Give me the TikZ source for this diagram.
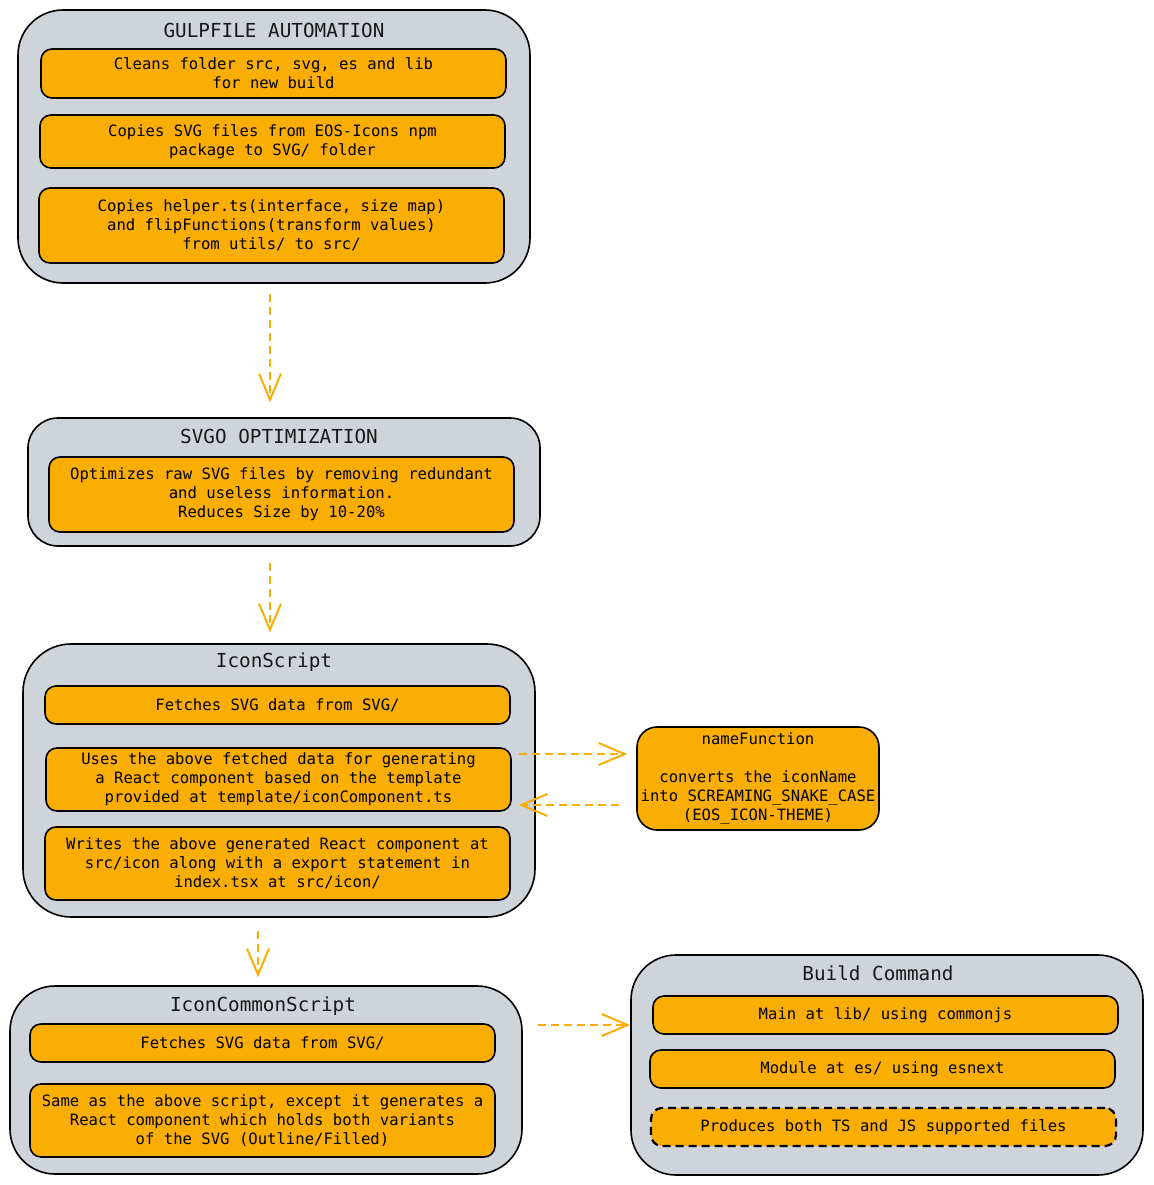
\documentclass[tikz,border=0pt]{standalone}
\usepackage{fontspec}
\setmainfont{DejaVu Sans Mono}
\usetikzlibrary{arrows.meta}
\definecolor{boxorange}{HTML}{FAAE03}
\definecolor{grpgray}{HTML}{CFD4DB}
\definecolor{arroworange}{HTML}{FAAE03}
\tikzset{
  grp/.style={draw=black, fill=grpgray, line width=1.6pt, inner sep=0pt},
  item/.style={draw=black, fill=boxorange, line width=1.6pt, rounded corners=11pt, inner sep=0pt,
    align=center, font=\fontsize{15.6}{19}\selectfont, minimum width=465pt},
  title/.style={inner sep=0pt, font=\fontsize{19.3}{22}\selectfont, text=black!90},
  flow/.style={draw=arroworange, line width=2pt, dash pattern=on 8pt off 5pt,
    -{Straight Barb[length=26pt,width=22pt,line width=2pt]}},
}
\begin{document}
\begin{tikzpicture}[x=1pt,y=-1pt]
\useasboundingbox (0,0) rectangle (1153,1185);
% Group 1
\node[grp, rounded corners=45pt, minimum width=512pt, minimum height=273pt] (g1) at (274,146.5) {};
\node[title] (t1) at (274,30) {GULPFILE AUTOMATION};
\node[item, minimum height=49pt] (a1) at (273.5,73.5) {Cleans folder src, svg, es and lib\\for new build};
\node[item, minimum height=53pt] (a2) at (272.5,141.5) {Copies SVG files from EOS-Icons npm\\package to SVG/ folder};
\node[item, minimum height=75pt] (a3) at (271.5,225.5) {Copies helper.ts(interface, size map)\\and flipFunctions(transform values)\\from utils/ to src/};
% Group 2
\node[grp, rounded corners=30pt, minimum width=512pt, minimum height=128pt] (g2) at (284,482) {};
\node[title] (t2) at (279,436) {SVGO OPTIMIZATION};
\node[item, minimum height=75pt] (b1) at (281.5,494.5) {Optimizes raw SVG files by removing redundant\\and useless information.\\Reduces Size by 10-20\%};
% Group 3
\node[grp, rounded corners=48pt, minimum width=512pt, minimum height=273pt] (g3) at (279,780.5) {};
\node[title] (t3) at (274,662) {IconScript};
\node[item, minimum height=38pt] (c1) at (277.5,705) {Fetches SVG data from SVG/};
\node[item, minimum height=63pt] (c2) at (278.5,779.5) {Uses the above fetched data for generating\\a React component based on the template\\provided at template/iconComponent.ts};
\node[item, minimum height=73pt] (c3) at (277.5,863.5) {Writes the above generated React component at\\src/icon along with a export statement in\\index.tsx at src/icon/};
% nameFunction
\node[item, rounded corners=20pt, minimum width=242pt, minimum height=103pt] (nf) at (758,778.5) {nameFunction\\[19pt]converts the iconName\\into SCREAMING\_SNAKE\_CASE\\(EOS\_ICON-THEME)};
% Group 4
\node[grp, rounded corners=45pt, minimum width=512pt, minimum height=188pt] (g4) at (266,1080) {};
\node[title] (t4) at (263,1006) {IconCommonScript};
\node[item, minimum height=38pt] (d1) at (262.5,1043) {Fetches SVG data from SVG/};
\node[item, minimum height=73pt] (d2) at (262.5,1120.5) {Same as the above script, except it generates a\\React component which holds both variants\\of the SVG (Outline/Filled)};
% Group 5
\node[grp, rounded corners=45pt, minimum width=512pt, minimum height=220pt] (g5) at (887,1065) {};
\node[title] (t5) at (878,973) {Build Command};
\node[item, minimum height=38pt] (e1) at (885.5,1015) {Main at lib/ using commonjs};
\node[item, minimum height=38pt] (e2) at (882.5,1069) {Module at es/ using esnext};
\node[item, line width=2.2pt, dash pattern=on 8pt off 5pt, minimum height=38pt] (e3) at (883.5,1127) {Produces both TS and JS supported files};
% connectors
\coordinate (xa) at (270,0);
\coordinate (xb) at (258,0);
\coordinate (ya) at (0,754);
\coordinate (yb) at (0,805);
\coordinate (yc) at (0,1025);
\draw[flow, shorten <=10pt, shorten >=15pt] (g1.south -| xa) -- (g2.north -| xa);
\draw[flow, shorten <=16pt, shorten >=11pt] (g2.south -| xa) -- (g3.north -| xa);
\draw[flow, shorten <=13pt, shorten >=8pt] (g3.south -| xb) -- (g4.north -| xb);
\draw[flow, shorten <=7pt, shorten >=9pt] (c2.east |- ya) -- (nf.west |- ya);
\draw[flow, shorten <=17pt, shorten >=7pt] (nf.west |- yb) -- (c2.east |- yb);
\draw[flow, shorten <=15pt, shorten >=0pt] (g4.east |- yc) -- (g5.west |- yc);
\end{tikzpicture}
\end{document}
